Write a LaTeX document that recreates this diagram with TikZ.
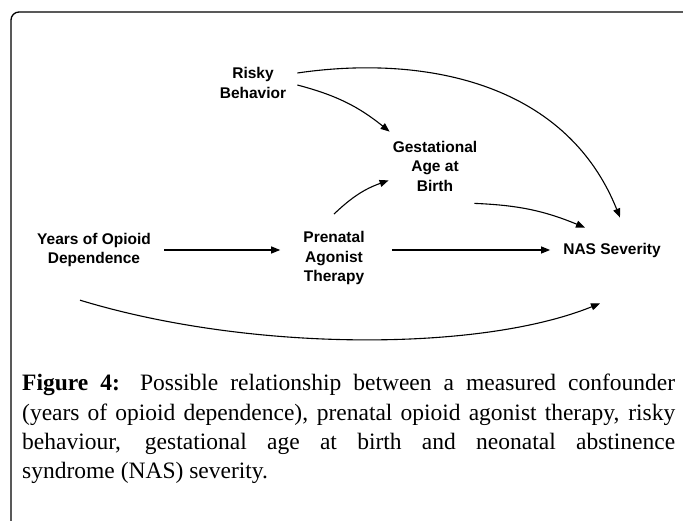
\documentclass[tikz,border=0pt]{standalone}
\usepackage{fontspec}
\setmainfont{Liberation Serif}
\setsansfont{Liberation Sans}
\usetikzlibrary{arrows.meta,positioning}

\tikzset{
  var/.style={font=\sffamily\bfseries\fontsize{15.5}{19.5}\selectfont, align=center, inner sep=1pt},
  link/.style={line width=1.1pt, -{Triangle[length=9pt,width=7pt]}},
}

\begin{document}
\begin{tikzpicture}[x=1pt,y=-1pt]
\useasboundingbox (0,0) rectangle (683,521);
% frame, open to the right and below
\draw[line width=1.3pt, rounded corners=8pt] (11,530) -- (11,12) -- (695,12);
% variables of the diagram
\node[var] (risk) at (253,83) {Risky\\Behavior};
\node[var] (gest) at (435,166) {Gestational\\Age at\\Birth};
\node[var] (years) at (94,250) {Years of Opioid\\Dependence};
\node[var] (prenat) at (334,258) {Prenatal\\Agonist\\Therapy};
\node[var] (nas) at (612,250) {NAS Severity};
% causal links
\draw[link] ([xshift=12pt]years.east |- nas.west) -- ([xshift=-22pt]prenat.west |- nas.west);
\draw[link] ([xshift=26pt]prenat.east |- nas.west) -- ([xshift=-12pt]nas.west);
\draw[link] ([yshift=16pt]prenat.north) to[bend left=12] ([xshift=-3pt,yshift=12pt]gest.south west);
\draw[link] ([xshift=10pt,yshift=-2pt]risk.east) to[bend left=12] ([xshift=-2pt,yshift=8pt]gest.north west);
\draw[link] ([xshift=-4pt,yshift=-11pt]gest.south east) to[bend left=10] ([xshift=-27pt,yshift=14pt]nas.north);
\draw[link] ([xshift=10pt,yshift=10pt]risk.east) .. controls (420,55) and (565,80) .. ([xshift=8pt,yshift=24pt]nas.north);
\draw[link] ([xshift=-14pt,yshift=-32pt]years.south) .. controls (250,352) and (480,352) .. ([xshift=-12pt,yshift=-45pt]nas.south);
% caption
\node[anchor=north west, text width=653pt, align=justify, inner sep=0pt,
      font=\fontsize{23.5}{29.3}\selectfont] (cap) at (22,374)
  {\textbf{Figure 4:} Possible relationship between a measured confounder\linebreak
   (years of opioid dependence), prenatal opioid agonist therapy, risky\linebreak
   behaviour, gestational age at birth and neonatal abstinence\linebreak
   syndrome (NAS) severity.};
\end{tikzpicture}
\end{document}
